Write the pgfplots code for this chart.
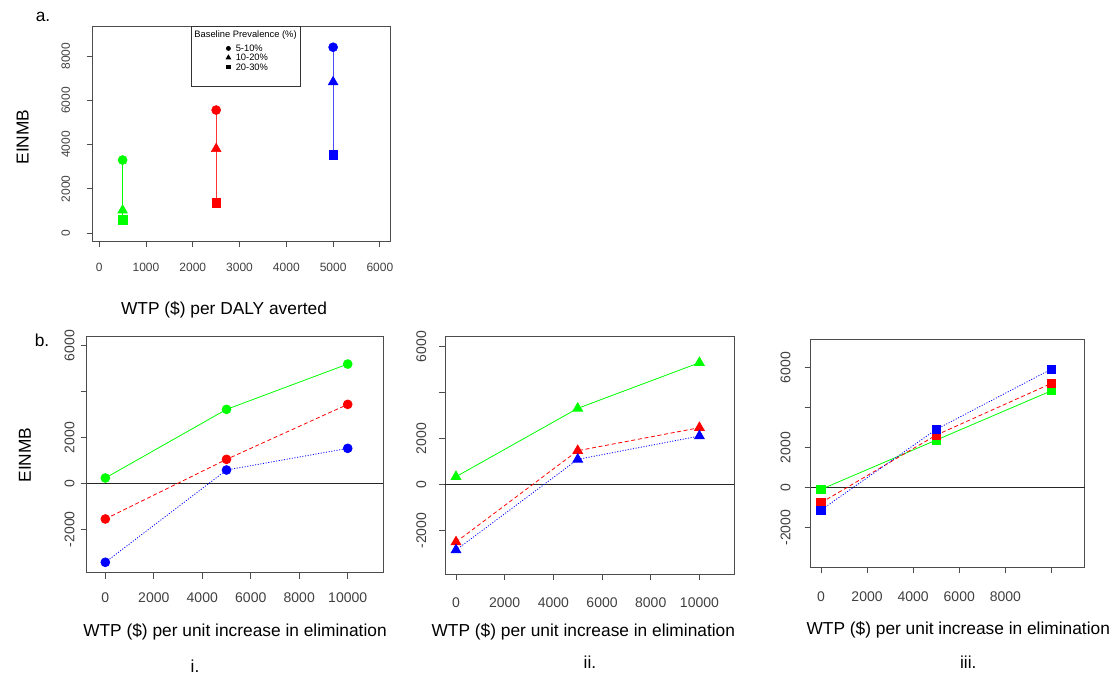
\documentclass[border=0pt]{standalone}
\usepackage{fontspec}
\setmainfont{Liberation Sans}
\usepackage{pgfplots}
\pgfplotsset{compat=1.18}

\pgfplotsset{
  rstyle/.style={
    scale only axis,
    anchor=south west,
    axis line style={black!70, line width=0.7pt},
    tick align=outside,
    tick pos=left,
    major tick length=4.5pt,
    tick style={black!70, line width=0.7pt},
    tick label style={font=\fontsize{10.5}{12}\selectfont, text=black!75},
    yticklabel style={rotate=90, anchor=south},
    xticklabel style={anchor=north},
    scaled x ticks=false, scaled y ticks=false,
    /pgf/number format/assume math mode=true,
    /pgf/number format/1000 sep={},
  },
  zeroline/.style={
    extra y ticks={0}, extra y tick labels={},
    extra y tick style={grid=major, major grid style={black!85, line width=0.8pt}},
  },
  gser/.style={green, line width=0.6pt, mark options={solid}},
  rser/.style={red, line width=0.6pt, dash pattern=on 3pt off 2pt, mark options={solid}},
  bser/.style={blue, line width=0.6pt, dash pattern=on 0.8pt off 1.2pt, mark options={solid}},
}

\newcommand{\lab}{\fontsize{13}{15}\selectfont}

\begin{document}
\begin{tikzpicture}
\path[use as bounding box] (0,0) rectangle (838.5pt,-506.25pt);

% ---------- a. ----------
\begin{axis}[rstyle,
  at={(69.5pt,-180.75pt)}, width=223.5pt, height=161.25pt,
  tick label style={font=\fontsize{9}{11}\selectfont},
  xticklabel shift=8.5pt, yticklabel shift=9pt,
  xmin=-140, xmax=6230, ymin=-360, ymax=9360,
  xtick={0,1000,...,6000}, ytick={0,2000,...,8000},
  legend cell align=left,
  legend style={at={(rel axis cs:0.329,1)}, anchor=north west,
    draw=black!80, line width=0.6pt,
    font=\fontsize{7}{8}\selectfont,
    row sep=1pt, nodes={inner sep=0.5pt, text depth=0pt},
    inner xsep=2pt, inner ysep=3pt},
  legend image code/.code={\draw[overlay,#1] plot coordinates {(26pt,0pt)};},
]
\addplot[green, line width=0.7pt, forget plot] coordinates {(500,3300) (500,600)};
\addplot[green, only marks, mark=*, mark size=3.4pt, forget plot] coordinates {(500,3300)};
\addplot[green, only marks, mark=triangle*, mark size=4.2pt, forget plot] coordinates {(500,1030)};
\addplot[green, only marks, mark=square*, mark size=3.2pt, forget plot] coordinates {(500,610)};

\addplot[red!80!white, line width=0.7pt, forget plot] coordinates {(2500,5560) (2500,1360)};
\addplot[red, only marks, mark=*, mark size=3.4pt, forget plot] coordinates {(2500,5560)};
\addplot[red, only marks, mark=triangle*, mark size=4.2pt, forget plot] coordinates {(2500,3810)};
\addplot[red, only marks, mark=square*, mark size=3.2pt, forget plot] coordinates {(2500,1360)};

\addplot[blue!70!white, line width=0.7pt, forget plot] coordinates {(5000,8400) (5000,3550)};
\addplot[blue, only marks, mark=*, mark size=3.4pt, forget plot] coordinates {(5000,8400)};
\addplot[blue, only marks, mark=triangle*, mark size=4.2pt, forget plot] coordinates {(5000,6830)};
\addplot[blue, only marks, mark=square*, mark size=3.2pt, forget plot] coordinates {(5000,3550)};

\addlegendimage{empty legend}
\addlegendentry{\raisebox{3.5pt}{Baseline Prevalence (\%)}}
\addlegendimage{only marks, mark=*, black, mark size=1.5pt}
\addlegendentry{\hspace*{31pt}5-10\%}
\addlegendimage{only marks, mark=triangle*, black, mark size=1.9pt}
\addlegendentry{\hspace*{31pt}10-20\%}
\addlegendimage{only marks, mark=square*, black, mark size=1.4pt}
\addlegendentry{\hspace*{31pt}20-30\%}
\addlegendimage{empty legend}
\addlegendentry{\rule{0pt}{7pt}}
\end{axis}

% ---------- b.i ----------
\begin{axis}[rstyle, zeroline,
  at={(65pt,-429.5pt)}, width=222.5pt, height=177.5pt,
  xticklabel shift=7pt, yticklabel shift=1pt,
  xmin=-770, xmax=11470, ymin=-3895, ymax=6423,
  xtick={0,2000,...,10000},
  ytick={-2000,0,2000,4000,6000}, yticklabels={-2000,0,2000,{},6000},
]
\addplot[gser, mark=*, mark size=3.3pt] coordinates {(0,232) (5000,3224) (10000,5200)};
\addplot[rser, mark=*, mark size=3.3pt] coordinates {(0,-1554) (5000,1046) (10000,3442)};
\addplot[bser, mark=*, mark size=3.3pt] coordinates {(0,-3442) (5000,581) (10000,1525)};
\end{axis}

% ---------- b.ii ----------
\begin{axis}[rstyle, zeroline,
  at={(333.75pt,-430.5pt)}, width=216.75pt, height=178.5pt,
  xticklabel shift=10pt, yticklabel shift=6pt,
  xmin=-452, xmax=11420, ymin=-3883, ymax=6464,
  xtick={0,2000,...,10000},
  ytick={-2000,0,2000,4000,6000}, yticklabels={-2000,0,2000,{},6000},
]
\addplot[gser, mark=triangle*, mark size=4.2pt] coordinates {(0,348) (5000,3319) (10000,5304)};
\addplot[rser, mark=triangle*, mark size=4.2pt] coordinates {(0,-2493) (5000,1478) (10000,2478)};
\addplot[bser, mark=triangle*, mark size=4.2pt] coordinates {(0,-2841) (5000,1101) (10000,2116)};
\end{axis}

% ---------- b.iii ----------
\begin{axis}[rstyle, zeroline,
  at={(608pt,-425.5pt)}, width=205.7pt, height=171pt,
  xticklabel shift=10pt, yticklabel shift=7pt,
  xmin=-447, xmax=11453, ymin=-3980, ymax=7420,
  xtick={0,2000,...,10000}, xticklabels={0,2000,4000,6000,8000,{}},
  ytick={-2000,0,2000,4000,6000}, yticklabels={-2000,0,2000,{},6000},
]
\addplot[gser, mark=square*, mark size=3.1pt] coordinates {(0,-83) (5000,2383) (10000,4850)};
\addplot[rser, mark=square*, mark size=3.1pt] coordinates {(0,-750) (5000,2633) (10000,5217)};
\addplot[bser, mark=square*, mark size=3.1pt] coordinates {(0,-1117) (5000,2917) (10000,5933)};
\end{axis}

% ---------- labels ----------
\node[font=\lab] at (32.25pt,-12.75pt) {a.};
\node[font=\lab, rotate=90] at (17pt,-102.75pt) {EINMB};
\node[font=\lab] at (168pt,-232.5pt) {WTP (\$) per DALY averted};

\node[font=\lab] at (31.5pt,-255pt) {b.};
\node[font=\lab, rotate=90] at (18.75pt,-341.25pt) {EINMB};
\node[font=\lab] at (176.25pt,-473.8pt) {WTP (\$) per unit increase in elimination};
\node[font=\lab] at (437.5pt,-473.8pt) {WTP (\$) per unit increase in elimination};
\node[font=\lab] at (718.7pt,-472.5pt) {WTP (\$) per unit increase in elimination};
\node[font=\lab] at (146.25pt,-500pt) {i.};
\node[font=\lab] at (442.5pt,-496.3pt) {ii.};
\node[font=\lab] at (726.2pt,-496.3pt) {iii.};
\end{tikzpicture}
\end{document}
